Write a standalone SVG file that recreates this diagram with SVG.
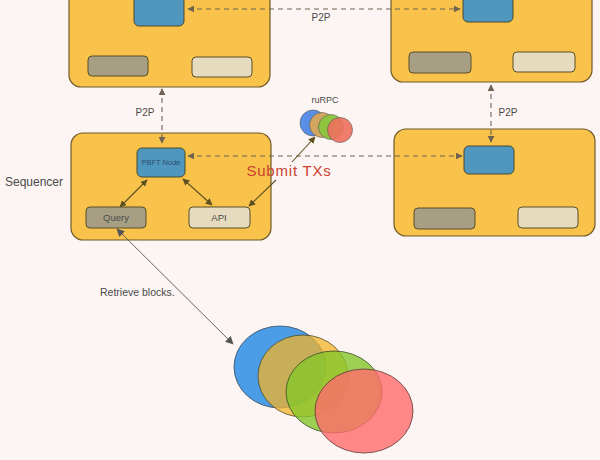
<svg xmlns="http://www.w3.org/2000/svg" width="600" height="460" viewBox="0 0 600 460">
<style>
.box{fill:#f8c24b;stroke:#6e5a28;stroke-width:1.2}
.blue{fill:#4f97bf;stroke:#4a4a2a;stroke-width:1}
.gray{fill:#a69f84;stroke:#5a4e28;stroke-width:1}
.beige{fill:#e5dbbf;stroke:#5a4e28;stroke-width:1}
.dash{fill:none;stroke:#6f6250;stroke-width:1.1;stroke-dasharray:5 4}
.solid{fill:none;stroke:#5e5020;stroke-width:1.1}
.thin{fill:none;stroke:#555;stroke-width:0.9}
.t{font-family:"Liberation Sans",Arial,sans-serif;fill:#4a4a4a}
</style>
<defs>
<marker id="ah" viewBox="0 0 10 10" refX="9" refY="5" markerWidth="7" markerHeight="7" orient="auto-start-reverse" markerUnits="userSpaceOnUse">
<path d="M0,0 L10,5 L0,10 z" fill="#5e5020"/>
</marker>
<marker id="ahd" viewBox="0 0 10 10" refX="9" refY="5" markerWidth="7" markerHeight="7" orient="auto-start-reverse" markerUnits="userSpaceOnUse">
<path d="M0,0 L10,5 L0,10 z" fill="#6f6250"/>
</marker>
<marker id="ahg" viewBox="0 0 10 10" refX="9" refY="5" markerWidth="8" markerHeight="8" orient="auto-start-reverse" markerUnits="userSpaceOnUse">
<path d="M0,0 L10,5 L0,10 z" fill="#555"/>
</marker>
</defs>
<rect width="600" height="460" fill="#fdf5f3"/>

<g id="node-topleft">
<rect class="box" x="69" y="-20" width="201" height="107" rx="12"/>
<rect class="blue" x="134" y="-4" width="50" height="30" rx="5"/>
<rect class="gray" x="88" y="56" width="60" height="20" rx="4"/>
<rect class="beige" x="192" y="57" width="60" height="20" rx="4"/>
</g>

<g id="node-topright">
<rect class="box" x="391" y="-20" width="201" height="102" rx="12"/>
<rect class="blue" x="463" y="-4" width="50" height="26" rx="5"/>
<rect class="gray" x="409" y="52" width="62" height="21" rx="4"/>
<rect class="beige" x="513" y="52" width="62" height="20" rx="4"/>
</g>

<g id="node-sequencer">
<rect class="box" x="71" y="133" width="200" height="107" rx="12"/>
<rect class="blue" x="137" y="148" width="48" height="29" rx="5"/>
<text class="t" x="161" y="165" font-size="7.5" text-anchor="middle" style="fill:#2d5070">PBFT Node</text>
<rect class="gray" x="86" y="207" width="60" height="21" rx="4"/>
<text class="t" x="116" y="221" font-size="9.5" text-anchor="middle">Query</text>
<rect class="beige" x="189" y="207" width="61" height="21" rx="4"/>
<text class="t" x="219" y="221" font-size="9.5" text-anchor="middle">API</text>
</g>
<text id="label-sequencer" class="t" x="5" y="186" font-size="12">Sequencer</text>

<g id="node-bottomright">
<rect class="box" x="394" y="129" width="201" height="107" rx="12"/>
<rect class="blue" x="464" y="146" width="50" height="28" rx="5"/>
<rect class="gray" x="414" y="208" width="61" height="21" rx="4"/>
<rect class="beige" x="518" y="207" width="60" height="21" rx="4"/>
</g>

<g id="node-rpc">
<circle cx="313" cy="123" r="13" fill="#5a8fe8" stroke="#555" stroke-width="0.6"/>
<circle cx="322" cy="125" r="12.5" fill="#d9a65a" stroke="#555" stroke-width="0.6" fill-opacity="0.95"/>
<circle cx="331" cy="127" r="12.5" fill="#8cc43c" stroke="#555" stroke-width="0.6" fill-opacity="0.95"/>
<circle cx="340" cy="130" r="12.5" fill="#f0705e" stroke="#555" stroke-width="0.6" fill-opacity="0.9"/>
<text class="t" x="325" y="103" font-size="9" text-anchor="middle">ruRPC</text>
</g>

<g id="node-blocks">
<ellipse cx="280" cy="367" rx="46" ry="41" fill="#4a9de6" stroke="#3a4a5a" stroke-width="0.8"/>
<ellipse cx="303" cy="376" rx="45" ry="41" fill="#f4b42a" fill-opacity="0.75" stroke="#4a4a2a" stroke-width="0.8"/>
<ellipse cx="334" cy="392" rx="48" ry="41" fill="#84c52a" fill-opacity="0.8" stroke="#3a4a2a" stroke-width="0.8"/>
<ellipse cx="364" cy="411" rx="49" ry="42" fill="#ff6b6b" fill-opacity="0.8" stroke="#5a3a3a" stroke-width="0.8"/>
</g>

<g id="connectors">
<line class="dash" x1="188" y1="9" x2="460" y2="9" marker-start="url(#ahd)" marker-end="url(#ahd)"/>
<text class="t" x="321" y="21" font-size="10" text-anchor="middle">P2P</text>
<line class="dash" x1="162" y1="89" x2="162" y2="143" marker-start="url(#ahd)" marker-end="url(#ahd)"/>
<text class="t" x="145" y="116" font-size="10" text-anchor="middle">P2P</text>
<line class="dash" x1="491" y1="85" x2="491" y2="142" marker-start="url(#ahd)" marker-end="url(#ahd)"/>
<text class="t" x="508" y="116" font-size="10" text-anchor="middle">P2P</text>
<line class="dash" x1="188" y1="156" x2="462" y2="156" marker-start="url(#ahd)" marker-end="url(#ahd)"/>
<line class="solid" x1="147" y1="180" x2="120" y2="207" marker-start="url(#ah)" marker-end="url(#ah)"/>
<line class="solid" x1="183" y1="179" x2="212" y2="205" marker-start="url(#ah)" marker-end="url(#ah)"/>
<line class="solid" x1="292" y1="162" x2="315" y2="137" marker-end="url(#ah)"/>
<line class="solid" x1="276" y1="180" x2="249" y2="206" marker-end="url(#ah)"/>
<text x="289" y="176" font-size="15" letter-spacing="0.8" text-anchor="middle" font-family="Liberation Sans, Arial, sans-serif" fill="#c8412f">Submit TXs</text>
<line class="thin" x1="117" y1="229" x2="233" y2="344" marker-start="url(#ahg)" marker-end="url(#ahg)"/>
<text class="t" x="100" y="296" font-size="10.5">Retrieve blocks.</text>
</g>
</svg>
